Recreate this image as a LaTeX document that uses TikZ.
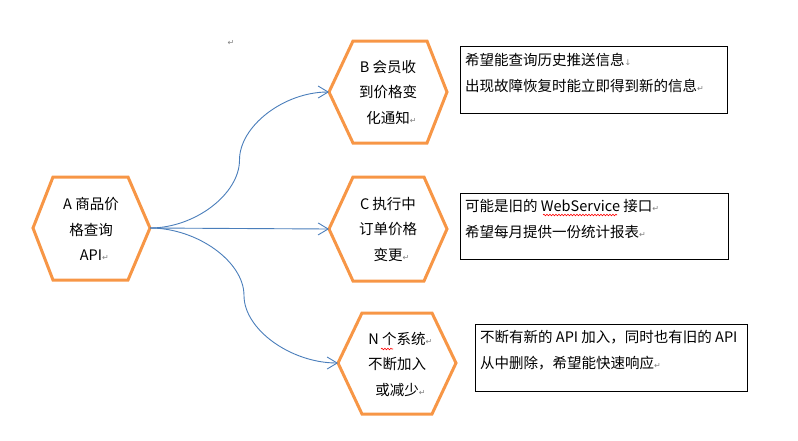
\documentclass[tikz,border=0pt]{standalone}
\usepackage{fontspec}
\setmainfont{Noto Sans CJK SC}
\newfontfamily\symfont{DejaVu Sans}
\usetikzlibrary{arrows.meta,decorations.pathmorphing,calc}
\definecolor{hexorange}{HTML}{F79646}
\definecolor{conblue}{HTML}{4A7EBB}
\definecolor{markgray}{HTML}{808080}
\newcommand{\pmark}{\textcolor{markgray}{\symfont\fontsize{8}{8}\selectfont ↵}}
\newcommand{\dmark}{\textcolor{markgray}{\symfont\fontsize{8}{8}\selectfont ↓}}
\tikzset{
  hex/.style={draw=hexorange, line width=3pt, line join=miter},
  hextext/.style={align=center, inner sep=0pt, font=\fontsize{14.5}{25.5}\selectfont},
  con/.style={draw=conblue, line width=0.9pt, -{Straight Barb[length=10pt,width=12pt]}},
  notebox/.style={draw=black, line width=1pt, anchor=north west, inner sep=0pt},
  notetext/.style={anchor=west, inner sep=0pt, font=\fontsize{14.5}{17}\selectfont},
  squiggle/.style={draw=red, line width=0.6pt, decorate, decoration={snake, amplitude=0.8pt, segment length=3pt}}
}
\begin{document}
\begin{tikzpicture}[x=1pt,y=-1pt]
\useasboundingbox (0,0) rectangle (798,440);

% hexagons
\draw[hex] (33,228) coordinate (aL) -- (53,177) -- (128,177) -- (150,228) coordinate (aR) -- (128,280) -- (53,280) -- cycle;
\draw[hex] (329,92) coordinate (bL) -- (353,41) -- (427,41) -- (447,92) coordinate (bR) -- (427,143) -- (353,143) -- cycle;
\draw[hex] (329,229) coordinate (cL) -- (353,177) -- (424,177) -- (447,229) coordinate (cR) -- (424,281) -- (353,281) -- cycle;
\draw[hex] (338,363) coordinate (nL) -- (362,313) -- (432,313) -- (456,363) coordinate (nR) -- (432,414) -- (362,414) -- cycle;

\node[hextext] (a) at (91,229) {A 商品价\\格查询\\API\rlap{\pmark}};
\node[hextext] (b) at (388,92) {B 会员收\\到价格变\\化通知\rlap{\pmark}};
\node[hextext] (c) at (388,229) {C 执行中\\订单价格\\变更\rlap{\pmark}};
\node[hextext] (n) at (397,364) {N 个系统\rlap{\pmark}\\不断加入\\或减少\rlap{\pmark}};

% stray paragraph mark
\node[inner sep=0pt] (stray) at (231,43) {\pmark};

% connectors
\coordinate (m1) at ($(aR)!0.5!(bL)$);
\coordinate (m3) at ($(aR)!0.5!(nL)$);
\draw[con] (aR) .. controls +(45,0) and +(0,34) .. (m1) .. controls +(0,-34) and +(-45,0) .. (bL);
\draw[con] (aR) -- (cL);
\draw[con] (aR) .. controls +(47,0) and +(0,-34) .. (m3) .. controls +(0,34) and +(-47,0) .. (nL);

% note boxes
\node[notebox, minimum width=267pt, minimum height=67pt] (t1) at (460,46) {};
\node[notebox, minimum width=268pt, minimum height=66pt] (t2) at (460,193) {};
\node[notebox, minimum width=272pt, minimum height=67pt] (t3) at (475,324) {};

\node[notetext] (t1a) at (465,60) {希望能查询历史推送信息\dmark};
\node[notetext] (t1b) at (465,86) {出现故障恢复时能立即得到新的信息\pmark};
\node[notetext] (t2a) at (465,206) {可能是旧的 WebService 接口\pmark};
\node[notetext] (t2b) at (465,232) {希望每月提供一份统计报表\pmark};
\node[notetext] (t3a) at (480,337) {不断有新的 API 加入，同时也有旧的 API};
\node[notetext] (t3b) at (480,363) {从中删除，希望能快速响应\pmark};

% spell-check underlines
\draw[squiggle] (543,215) -- (617,215);
\draw[squiggle] (381,349) -- (393,349);
\end{tikzpicture}
\end{document}
